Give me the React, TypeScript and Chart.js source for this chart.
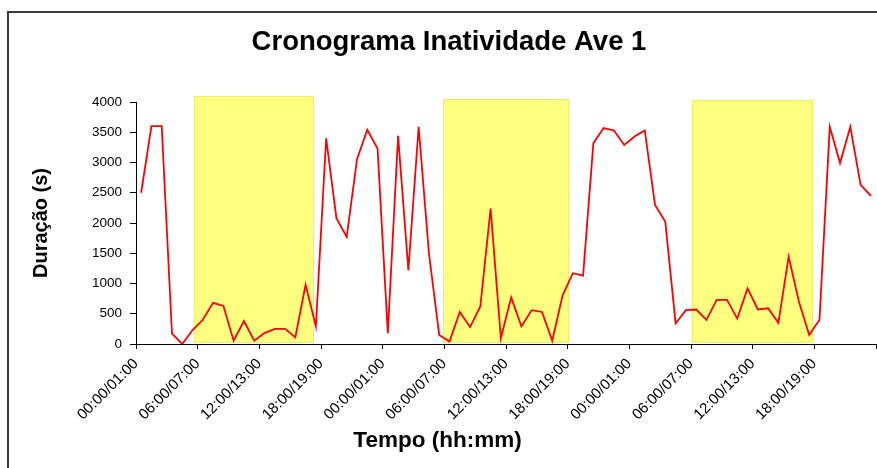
import React, { useEffect, useRef } from 'react';
import { Chart, registerables } from 'chart.js';

Chart.register(...registerables);

// Tick labels (every 6 hours, 3 days)
const tickLabels = [
  '00:00/01:00', '06:00/07:00', '12:00/13:00', '18:00/19:00',
  '00:00/01:00', '06:00/07:00', '12:00/13:00', '18:00/19:00',
  '00:00/01:00', '06:00/07:00', '12:00/13:00', '18:00/19:00',
];

// Inactivity duration (s) per hourly interval (72 hours)
const durations = [
  2500, 3600, 3600, 170, 0, 230, 400, 680, 630, 55, 380, 55,
  180, 250, 250, 110, 980, 290, 3400, 2080, 1770, 3050, 3540, 3230,
  180, 3440, 1220, 3590, 1500, 150, 40, 530, 280, 620, 2240, 95,
  770, 290, 560, 530, 55, 800, 1170, 1130, 3320, 3570, 3530, 3290,
  3430, 3530, 2300, 2020, 340, 560, 570, 400, 730, 730, 420, 920,
  570, 590, 350, 1440, 700, 150, 400, 3590, 2990, 3590, 2630, 2450,
];

// Light periods (yellow boxes), in hours from start
const lightStart = [5.65, 29.9, 54.1];
const lightEnd = [17.25, 42.05, 65.8];
const lightTop = [4100, 4050, 4030];
const lightBottom = 30;

const xAxisTitle = 'Tempo (hh:mm)';

const FONT = "'Liberation Sans', Arial, sans-serif";

const lightPlugin = {
  id: 'lightPeriods',
  beforeDatasetsDraw(chart: any) {
    const { ctx, scales } = chart;
    const xs = scales.x;
    const ys = scales.y;
    ctx.save();
    for (let k = 0; k < lightStart.length; k++) {
      const x0 = xs.getPixelForValue(lightStart[k]);
      const x1 = xs.getPixelForValue(lightEnd[k]);
      const y0 = ys.getPixelForValue(lightTop[k]);
      const y1 = ys.getPixelForValue(lightBottom);
      ctx.fillStyle = '#FFFF80';
      ctx.fillRect(x0, y0, x1 - x0, y1 - y0);
      ctx.strokeStyle = '#EDED6A';
      ctx.lineWidth = 1;
      ctx.strokeRect(Math.round(x0) + 0.5, Math.round(y0) + 0.5, Math.round(x1 - x0), Math.round(y1 - y0));
    }
    ctx.restore();
  },
};

// x-axis title, centred on the whole chart box (as in the reference)
const xTitlePlugin = {
  id: 'xTitle',
  afterDraw(chart: any) {
    const { ctx } = chart;
    const xs = chart.scales.x;
    ctx.save();
    ctx.font = `bold 22.5px ${FONT}`;
    ctx.fillStyle = '#000';
    ctx.textAlign = 'center';
    ctx.textBaseline = 'middle';
    ctx.fillText(xAxisTitle, chart.width / 2 - 1, xs.bottom - 27);
    ctx.restore();
  },
};

export default function App() {
  const ref = useRef<HTMLCanvasElement>(null);

  useEffect(() => {
    const canvas = ref.current;
    if (!canvas) return;
    const chart = new Chart(canvas, {
      type: 'line',
      data: {
        datasets: [
          {
            label: 'Duração',
            data: durations.map((v, i) => ({ x: i + 0.5, y: v })),
            borderColor: '#FF0000',
            backgroundColor: '#FF0000',
            borderWidth: 1.8,
            pointRadius: 0,
            tension: 0,
            fill: false,
          },
        ],
      },
      options: {
        responsive: false,
        devicePixelRatio: 1,
        animation: false,
        layout: { padding: { left: 22, right: 1, top: 0, bottom: 0 } },
        plugins: {
          legend: { display: false },
          tooltip: { enabled: false },
          title: {
            display: true,
            text: 'Cronograma Inatividade Ave 1',
            color: '#000',
            font: { family: FONT, size: 27.5, weight: 'bold' },
            padding: { top: 26, bottom: 43 },
          },
        },
        scales: {
          x: {
            type: 'linear',
            min: 0,
            max: 72,
            afterFit: (s: any) => {
              s.height = 124;
              s.paddingRight = 0;
              s.paddingLeft = 0;
            },
            border: { display: true, color: '#000', width: 1 },
            grid: { display: true, drawOnChartArea: false, drawTicks: true, tickLength: 5, color: '#000' },
            ticks: {
              stepSize: 6,
              autoSkip: false,
              maxRotation: 45,
              minRotation: 45,
              padding: 6,
              color: '#000',
              font: { family: FONT, size: 15 },
              callback: (v: any) => tickLabels[Math.round(Number(v) / 6)] ?? '',
            },
            title: { display: false },
          },
          y: {
            min: 0,
            max: 4000,
            afterFit: (s: any) => { s.width = 114; },
            border: { display: true, color: '#000', width: 1 },
            grid: { display: true, drawOnChartArea: false, drawTicks: true, tickLength: 6, color: '#000' },
            ticks: {
              stepSize: 500,
              padding: 8,
              color: '#000',
              font: { family: FONT, size: 13.5 },
              callback: (v: any) => String(v),
            },
            title: {
              display: true,
              text: 'Duração (s)',
              color: '#000',
              font: { family: FONT, size: 20, weight: 'bold' },
              padding: { top: 7, bottom: 0 },
            },
          },
        },
      },
      plugins: [lightPlugin, xTitlePlugin],
    } as any);
    return () => chart.destroy();
  }, []);

  return (
    <div style={{ position: 'fixed', left: 0, top: 0, width: 877, height: 468, overflow: 'hidden', background: '#fff' }}>
      <canvas ref={ref} width={877} height={468} style={{ display: 'block', width: 877, height: 468 }} />
      <div
        style={{
          position: 'absolute',
          left: 7,
          top: 11,
          width: 900,
          height: 500,
          borderTop: '2px solid #3a3a3a',
          borderLeft: '2px solid #3a3a3a',
          pointerEvents: 'none',
        }}
      />
    </div>
  );
}
